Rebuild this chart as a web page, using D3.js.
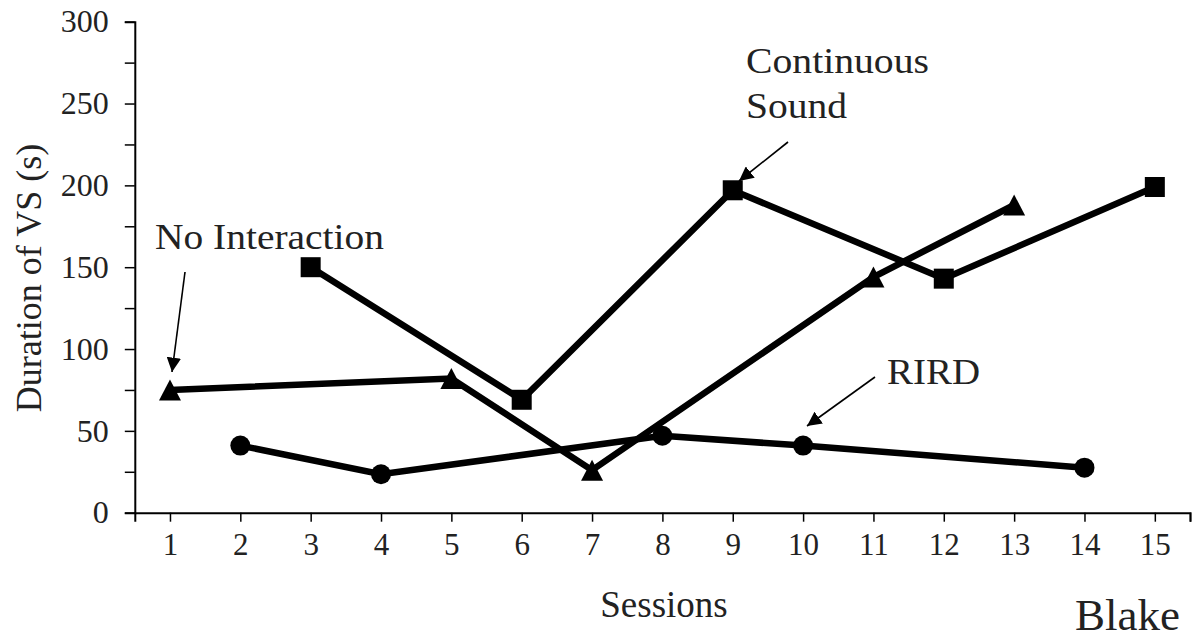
<!DOCTYPE html>
<html>
<head>
<meta charset="utf-8">
<script src="https://cdn.jsdelivr.net/npm/d3@7"></script>
<style>
  html, body { margin: 0; padding: 0; background: #fff; }
  svg text { font-family: "Liberation Serif", "Times New Roman", Times, "DejaVu Serif", serif; }
</style>
</head>
<body>
<svg id="chart" width="1197" height="639"></svg>
<script>
// ---- data ----
const sessionTicks = [1,2,3,4,5,6,7,8,9,10,11,12,13,14,15];
const yTicks = [0,25,50,75,100,125,150,175,200,225,250,275,300];
const yLabels = [0,50,100,150,200,250,300];

const noInteractionSessions = [1, 5, 7, 11, 13];
const noInteractionValues   = [75, 82, 26, 144, 188];

const continuousSessions = [3, 6, 9, 12, 15];
const continuousValues   = [150, 69, 197, 143, 199];

const rirdSessions = [2, 4, 8, 10, 14];
const rirdValues   = [41, 23.5, 47, 41, 27.5];

const annotations = [
  { lines: ["No Interaction"], session: 1, value: 75 },
  { lines: ["Continuous", "Sound"], session: 9, value: 197 },
  { lines: ["RIRD"], session: 10, value: 41 }
];

// ---- layout ----
const FONT = '"Liberation Serif", "Times New Roman", Times, "DejaVu Serif", serif';
const svg = d3.select("#chart");
const x = d3.scaleLinear().domain([0.5, 15.5]).range([134.8, 1190]);
const y = d3.scaleLinear().domain([0, 300]).range([512.7, 21.7]);

const defs = svg.append("defs");
defs.append("marker")
  .attr("id", "arrow")
  .attr("viewBox", "0 0 10 10")
  .attr("refX", 10).attr("refY", 5)
  .attr("markerWidth", 9).attr("markerHeight", 9)
  .attr("markerUnits", "strokeWidth")
  .attr("orient", "auto")
  .append("path").attr("d", "M0,0 L10,5 L0,10 Z").attr("fill", "#000");

// y axis
const yAxis = d3.axisLeft(y).tickValues(yTicks).tickSize(10).tickPadding(16)
  .tickFormat(d => yLabels.includes(d) ? d : "");
const gy = svg.append("g").attr("transform", `translate(${x(0.5)},0)`).call(yAxis)
  .attr("font-family", FONT).attr("font-size", 32);
gy.select(".domain").attr("stroke-width", 2);
gy.selectAll(".tick line").attr("stroke-width", 1.5);
gy.selectAll(".tick text").attr("fill", "#222");

// x axis
const xAxis = d3.axisBottom(x).tickValues(sessionTicks.concat([15.5])).tickSize(9).tickPadding(11)
  .tickFormat(d => sessionTicks.includes(d) ? d : "");
const gx = svg.append("g").attr("transform", `translate(0,${y(0)})`).call(xAxis)
  .attr("font-family", FONT).attr("font-size", 31);
gx.select(".domain").attr("stroke-width", 2);
gx.selectAll(".tick line").attr("stroke-width", 1.5);
gx.selectAll(".tick text").attr("fill", "#222");

// axis titles
svg.append("text").attr("x", 664).attr("y", 617).attr("text-anchor", "middle")
  .attr("font-family", FONT).attr("font-size", 37).attr("fill", "#222").text("Sessions");
svg.append("text").attr("transform", "translate(41,278) rotate(-90)").attr("text-anchor", "middle")
  .attr("font-family", FONT).attr("font-size", 36).attr("fill", "#222").text("Duration of VS (s)");
svg.append("text").attr("x", 1075).attr("y", 630)
  .attr("font-family", FONT).attr("font-size", 45).attr("fill", "#222").text("Blake");

// series
const line = d3.line().x(d => x(d[0])).y(d => y(d[1]));
function series(sessions, values) { return sessions.map((s, i) => [s, values[i]]); }

const niData = series(noInteractionSessions, noInteractionValues);
const csData = series(continuousSessions, continuousValues);
const rdData = series(rirdSessions, rirdValues);

[niData, csData, rdData].forEach(data => {
  svg.append("path").datum(data).attr("d", line)
    .attr("fill", "none").attr("stroke", "#000").attr("stroke-width", 6.5)
    .attr("stroke-linejoin", "miter");
});

// markers
svg.append("g").selectAll("path").data(niData).join("path")
  .attr("d", d => { const cx = x(d[0]), cy = y(d[1]);
    return `M${cx},${cy - 10.5} L${cx + 11},${cy + 10.5} L${cx - 11},${cy + 10.5} Z`; })
  .attr("fill", "#000");
svg.append("g").selectAll("rect").data(csData).join("rect")
  .attr("x", d => x(d[0]) - 10).attr("y", d => y(d[1]) - 10)
  .attr("width", 20).attr("height", 20).attr("fill", "#000");
svg.append("g").selectAll("circle").data(rdData).join("circle")
  .attr("cx", d => x(d[0])).attr("cy", d => y(d[1])).attr("r", 10).attr("fill", "#000");

// annotations
const labelPos = [
  { tx: 155, ty: 249, tl: [229], ax1: 185, ay1: 272, ax2: 172, ay2: 372 },
  { tx: 746, ty: 73, tl: [183, 101], ax1: 788, ay1: 142, ax2: 739, ay2: 181 },
  { tx: 887, ty: 384, tl: [93], ax1: 875, ay1: 377, ax2: 807, ay2: 426 }
];
annotations.forEach((a, i) => {
  const p = labelPos[i];
  a.lines.forEach((t, j) => {
    svg.append("text").attr("x", p.tx).attr("y", p.ty + j * 45)
      .attr("font-family", FONT).attr("font-size", 36).attr("fill", "#222")
      .attr("textLength", p.tl[j]).attr("lengthAdjust", "spacingAndGlyphs")
      .text(t);
  });
  svg.append("line").attr("x1", p.ax1).attr("y1", p.ay1).attr("x2", p.ax2).attr("y2", p.ay2)
    .attr("stroke", "#000").attr("stroke-width", 1.6).attr("marker-end", "url(#arrow)");
});
</script>
</body>
</html>
